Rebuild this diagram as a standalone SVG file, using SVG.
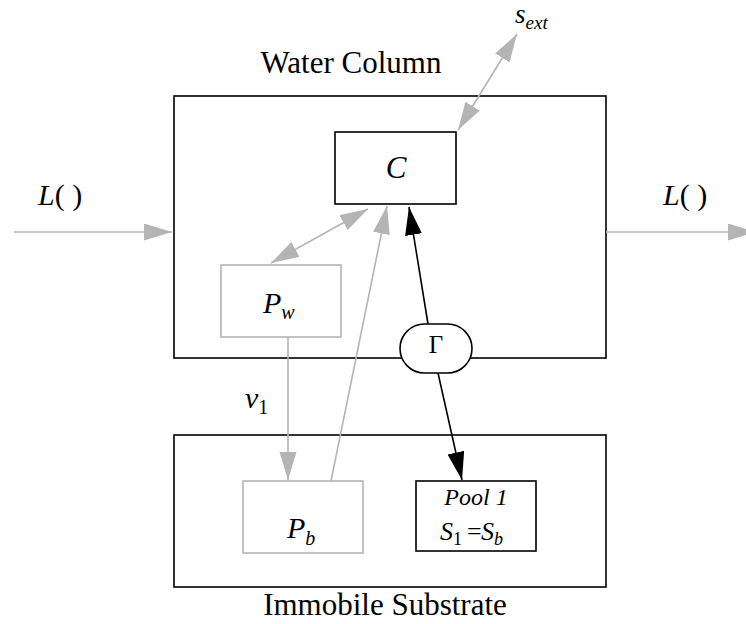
<svg xmlns="http://www.w3.org/2000/svg" width="746" height="624" viewBox="0 0 746 624">
<style>
text{font-family:"Liberation Serif","Times New Roman",serif;fill:#000}
.it{font-style:italic}
.box{fill:none;stroke:#000;stroke-width:1.6}
.gbox{fill:#fff;stroke:#b4b4b4;stroke-width:1.6}
.bbox{fill:#fff;stroke:#000;stroke-width:1.6}
.g{fill:none;stroke:#b4b4b4;stroke-width:1.6}
.k{fill:none;stroke:#000;stroke-width:1.6}
</style>
<defs>
<marker id="ag" markerUnits="userSpaceOnUse" markerWidth="30" markerHeight="18" refX="28" refY="8.5" orient="auto-start-reverse" viewBox="0 0 30 18"><path d="M0,0 L28,8.5 L0,17 z" fill="#b4b4b4"/></marker>
<marker id="ak" markerUnits="userSpaceOnUse" markerWidth="30" markerHeight="18" refX="28" refY="8.5" orient="auto-start-reverse" viewBox="0 0 30 18"><path d="M0,0 L28,8.5 L0,17 z" fill="#000"/></marker>
</defs>
<g id="water-column"><rect class="box" x="174" y="96" width="432" height="262"/><text x="351" y="73" font-size="31" text-anchor="middle">Water Column</text></g>
<g id="immobile-substrate"><rect class="box" x="174" y="435" width="432" height="152"/><text x="385" y="615" font-size="31" text-anchor="middle">Immobile Substrate</text></g>
<g id="connectors">
<line class="g" x1="14" y1="232" x2="172" y2="232" marker-end="url(#ag)"/>
<line class="g" x1="606" y1="232" x2="756" y2="232" marker-end="url(#ag)"/>
<line class="g" x1="458" y1="130" x2="517" y2="34" marker-start="url(#ag)" marker-end="url(#ag)"/>
<line class="g" x1="271" y1="263" x2="368" y2="209" marker-start="url(#ag)" marker-end="url(#ag)"/>
<line class="g" x1="331" y1="481" x2="387" y2="206" marker-end="url(#ag)"/>
<line class="g" x1="288" y1="337" x2="288" y2="480" marker-end="url(#ag)"/>
<line class="k" x1="428" y1="324" x2="409" y2="207" marker-end="url(#ak)"/>
<line class="k" x1="438" y1="373" x2="462" y2="480" marker-end="url(#ak)"/>
</g>
<g id="C"><rect class="bbox" x="335" y="132" width="121" height="72"/><text class="it" x="396" y="178" font-size="31" text-anchor="middle">C</text></g>
<g id="Pw"><rect class="gbox" x="221" y="265" width="120" height="72"/><text x="263" y="313" font-size="30" class="it">P<tspan font-size="20" dy="6">w</tspan></text></g>
<g id="Pb"><rect class="gbox" x="243" y="481" width="120" height="72"/><text x="287" y="538" font-size="30" class="it">P<tspan font-size="20" dy="7">b</tspan></text></g>
<g id="Pool1"><rect class="bbox" x="416" y="481" width="120" height="70"/><text class="it" x="476" y="505" font-size="24" text-anchor="middle">Pool 1</text><text x="440" y="540" font-size="26"><tspan class="it">S</tspan><tspan font-size="18" dy="5">1</tspan><tspan dy="-5" x="467">=</tspan><tspan class="it" x="481">S</tspan><tspan class="it" font-size="18" dy="5">b</tspan></text></g>
<g id="Gamma"><rect class="bbox" x="400" y="324" width="72" height="49" rx="24.5" ry="24.5"/><text x="436" y="353" font-size="25" text-anchor="middle">Γ</text></g>
<g id="labels">
<text x="38" y="205" font-size="30"><tspan class="it">L</tspan>( )</text>
<text x="663" y="205" font-size="30"><tspan class="it">L</tspan>( )</text>
<text x="515" y="23" font-size="27" class="it">s<tspan font-size="19" dy="6">ext</tspan></text>
<text x="245" y="408" font-size="30" class="it">v<tspan font-size="20" dy="6" font-style="normal">1</tspan></text>
</g>
</svg>
